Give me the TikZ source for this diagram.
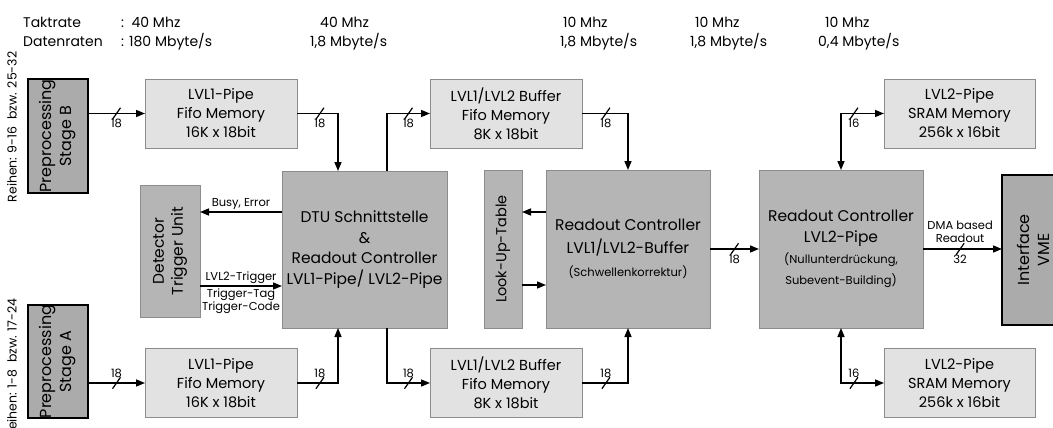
\documentclass[tikz,border=0pt]{standalone}
\usepackage{fontspec}
\setmainfont{Poppins}
\usepackage{xcolor}
\usepackage{tikz}
\usetikzlibrary{arrows.meta, positioning}
\definecolor{memfill}{HTML}{E2E2E2}
\definecolor{ctrlfill}{HTML}{B5B5B5}
\definecolor{stagefill}{HTML}{ABABAB}
\definecolor{edge}{HTML}{8C8C8C}
\newcommand{\fs}[2]{\fontsize{#1}{#2}\selectfont}
\tikzset{
  fifo/.style={rectangle, draw=edge, line width=0.8pt, fill=memfill, align=center, font=\fs{14.5}{19}, inner sep=0pt, outer sep=0pt},
  unit/.style={rectangle, draw=edge, line width=0.8pt, fill=ctrlfill, align=center, font=\fs{15.5}{20.5}, inner sep=0pt, outer sep=0pt},
  stage/.style={rectangle, draw=black, line width=2pt, fill=stagefill, align=center, font=\fs{16}{20}, inner sep=0pt, outer sep=0pt},
  arr/.style={-{Triangle[length=9pt, width=7pt]}, line width=1.5pt},
  dbl/.style={{Triangle[length=9pt, width=7pt]}-{Triangle[length=9pt, width=7pt]}, line width=1.5pt},
  bus/.style={draw, line width=1.2pt, minimum width=14pt, minimum height=0pt, inner sep=0pt, rotate=55},
}

\begin{document}
\begin{tikzpicture}[x=1pt, y=-1pt,
  lbl/.style={font=\fs{11.5}{13}, inner sep=2pt},
  hdr/.style={anchor=west, font=\fs{14}{18}, inner sep=0pt}]
\useasboundingbox (0,0) rectangle (1053,428);
\node[hdr] (tak) at (23,22) {Taktrate};
\node[hdr] (dat) at (23,42) {Datenraten};
\node[hdr] (tak1) at (121,22) {:\ \ 40 Mhz};
\node[hdr] (dat1) at (121,42) {: 180 Mbyte/s};
\node[hdr] (tak2) at (320,22) {40 Mhz};
\node[hdr] (dat2) at (310,42) {1,8 Mbyte/s};
\node[hdr] (tak3) at (563,22) {10 Mhz};
\node[hdr] (dat3) at (560,42) {1,8 Mbyte/s};
\node[hdr] (tak4) at (695,22) {10 Mhz};
\node[hdr] (dat4) at (690,42) {1,8 Mbyte/s};
\node[hdr] (tak5) at (825,22) {10 Mhz};
\node[hdr] (dat5) at (818,42) {0,4 Mbyte/s};

\node[stage, rotate=90, minimum width=114pt, minimum height=60pt] (preB) at (58,136) {Preprocessing\\Stage B};
\node[stage, rotate=90, minimum width=113pt, minimum height=60pt] (preA) at (58,361.5) {Preprocessing\\Stage A};
\node[lbl, rotate=90, font=\fs{12.5}{14}] (rowB) at (12,127) {Reihen: 9-16\ \ bzw. 25-32};
\node[lbl, rotate=90, font=\fs{12.5}{14}] (rowA) at (12,368) {Reihen: 1-8\ \ bzw. 17-24};

\node[fifo, minimum width=152pt, minimum height=69pt] (pipeB) at (221,113.5) {LVL1-Pipe\\Fifo Memory\\16K x 18bit};
\node[fifo, minimum width=152pt, minimum height=69pt] (pipeA) at (221,383) {LVL1-Pipe\\Fifo Memory\\16K x 18bit};
\node[unit, rotate=90, minimum width=132pt, minimum height=60pt, font=\fs{15.5}{19}] (dtu) at (170,251) {Detector\\Trigger Unit};
\node[unit, minimum width=165pt, minimum height=157pt] (ctrl) at (364.5,249.5) {DTU Schnittstelle\\\&\\Readout Controller\\LVL1-Pipe/ LVL2-Pipe};
\node[fifo, minimum width=152pt, minimum height=69pt] (bufB) at (506,113.5) {LVL1/LVL2 Buffer\\Fifo Memory\\8K x 18bit};
\node[fifo, minimum width=152pt, minimum height=69pt] (bufA) at (506,383) {LVL1/LVL2 Buffer\\Fifo Memory\\8K x 18bit};
\node[unit, rotate=90, minimum width=158pt, minimum height=38pt, font=\fs{14.5}{18}] (lut) at (503,249) {Look-Up-Table};
\node[unit, minimum width=164pt, minimum height=158pt, font=\fs{15.5}{23}] (rcbuf) at (628,249) {Readout Controller\\LVL1/LVL2-Buffer\\{\fs{11.5}{18}(Schwellenkorrektur)}};
\node[unit, minimum width=164pt, minimum height=158pt, font=\fs{15.5}{21}] (rcpipe) at (841,249) {Readout Controller\\LVL2-Pipe\\{\fs{11.5}{15}(Nullunterdrückung,}\\{\fs{11.5}{15}Subevent-Building)}};
\node[fifo, minimum width=151pt, minimum height=69pt] (sramB) at (959.5,113.5) {LVL2-Pipe\\SRAM Memory\\256k x 16bit};
\node[fifo, minimum width=151pt, minimum height=69pt] (sramA) at (959.5,383) {LVL2-Pipe\\SRAM Memory\\256k x 16bit};
\node[stage, rotate=90, minimum width=150pt, minimum height=62pt] (vme) at (1033,250) {Interface\\VME};

\draw[arr] (pipeB.west -| preB.south) -- node[bus] {} node[lbl, below=3pt] {18} (pipeB.west);
\draw[arr] (pipeA.west -| preA.south) -- node[bus] {} node[lbl, above=3pt] {18} (pipeA.west);
\draw[arr] (pipeB.east) -| node[bus, pos=0.28] {} node[lbl, below=3pt, pos=0.28] {18} ([xshift=-26.5pt]ctrl.north);
\draw[arr] (pipeA.east) -| node[bus, pos=0.28] {} node[lbl, above=3pt, pos=0.28] {18} ([xshift=-26.5pt]ctrl.south);
\draw[arr] ([xshift=22.5pt]ctrl.north) |- node[bus, pos=0.75] {} node[lbl, below=3pt, pos=0.75] {18} (bufB.west);
\draw[arr] ([xshift=22.5pt]ctrl.south) |- node[bus, pos=0.75] {} node[lbl, above=3pt, pos=0.75] {18} (bufA.west);
\draw[arr] (bufB.east) -| node[bus, pos=0.26] {} node[lbl, below=3pt, pos=0.26] {18} (rcbuf.north);
\draw[arr] (bufA.east) -| node[bus, pos=0.26] {} node[lbl, above=3pt, pos=0.26] {18} (rcbuf.south);
\draw[arr] ([yshift=37.5pt]ctrl.west) -- node[lbl, above] {Busy, Error} ([yshift=37.5pt]ctrl.west -| dtu.south);
\draw[arr] ([yshift=-36.5pt]ctrl.west -| dtu.south) -- node[lbl, above] {LVL2-Trigger} node[lbl, below, align=center] {Trigger-Tag\\Trigger-Code} ([yshift=-36.5pt]ctrl.west);
\draw[arr] ([yshift=37pt]rcbuf.west) -- ([yshift=37pt]rcbuf.west -| lut.south);
\draw[arr] ([yshift=-36pt]rcbuf.west -| lut.south) -- ([yshift=-36pt]rcbuf.west);
\draw[arr] (rcbuf.east) -- node[bus] {} node[lbl, below=3pt] {18} (rcpipe.west);
\draw[arr] (rcpipe.east) -- node[bus, pos=0.47] {} node[lbl, below=3pt, pos=0.47] {32} node[lbl, above=4pt, align=center, pos=0.47] {DMA based\\Readout} (rcpipe.east -| vme.north);
\draw[dbl] (sramB.west) -| node[bus, pos=0.35] {} node[lbl, below=3pt, pos=0.35] {16} (rcpipe.north);
\draw[dbl] (sramA.west) -| node[bus, pos=0.35] {} node[lbl, above=3pt, pos=0.35] {16} (rcpipe.south);
\end{tikzpicture}
\end{document}
